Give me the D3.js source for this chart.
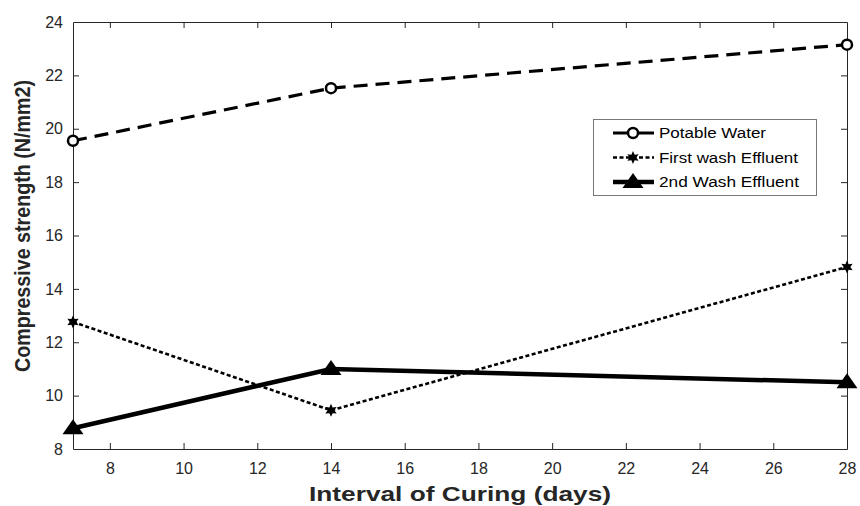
<!DOCTYPE html>
<html>
<head>
<meta charset="utf-8">
<script src="https://cdn.jsdelivr.net/npm/d3@7"></script>
<style>
  body { margin: 0; background: #fff; }
  svg { display: block; font-family: "Liberation Sans", Arial, sans-serif; }
</style>
</head>
<body>
<div id="chart"></div>
<script>
// data
const days = [7, 14, 28];
const potableWater = [19.55, 21.52, 23.15];
const firstWash = [12.76, 9.45, 14.82];
const secondWash = [8.78, 11.0, 10.5];
const seriesNames = ["Potable Water", "First wash Effluent", "2nd Wash Effluent"];
const xTicks = [8, 10, 12, 14, 16, 18, 20, 22, 24, 26, 28];
const yTicks = [8, 10, 12, 14, 16, 18, 20, 22, 24];

const width = 860, height = 506;
const margin = { left: 73, right: 13, top: 22, bottom: 57 };

const svg = d3.select("#chart").append("svg")
  .attr("width", width)
  .attr("height", height);

const x = d3.scaleLinear().domain([7, 28]).range([margin.left, width - margin.right]);
const y = d3.scaleLinear().domain([8, 24]).range([height - margin.bottom, margin.top]);

const axisColor = "#262626";

// =======================
// AXES (box with inward ticks)
// =======================
const tickLen = 6;
const gx = svg.append("g")
  .attr("transform", `translate(0,${y(8)})`)
  .call(d3.axisBottom(x).tickValues(xTicks).tickSizeInner(-tickLen).tickSizeOuter(0).tickPadding(14));
const gxTop = svg.append("g")
  .attr("transform", `translate(0,${y(24)})`)
  .call(d3.axisTop(x).tickValues(xTicks).tickSizeInner(-tickLen).tickSizeOuter(0).tickFormat(""));
const gy = svg.append("g")
  .attr("transform", `translate(${x(7)},0)`)
  .call(d3.axisLeft(y).tickValues(yTicks).tickSizeInner(-tickLen).tickSizeOuter(0).tickPadding(10));
const gyRight = svg.append("g")
  .attr("transform", `translate(${x(28)},0)`)
  .call(d3.axisRight(y).tickValues(yTicks).tickSizeInner(-tickLen).tickSizeOuter(0).tickFormat(""));

[gx, gxTop, gy, gyRight].forEach(g => {
  g.selectAll("path").attr("stroke", axisColor).attr("stroke-width", 1);
  g.selectAll("line").attr("stroke", axisColor).attr("stroke-width", 1);
  g.selectAll("text").attr("fill", axisColor).style("font-size", "16px");
});
// drop the ticks that sit on the corners
gx.selectAll(".tick").filter(d => d === 28).select("line").remove();
gxTop.selectAll(".tick").filter(d => d === 28).remove();
gy.selectAll(".tick").filter(d => d === 8 || d === 24).select("line").remove();
gyRight.selectAll(".tick").filter(d => d === 8 || d === 24).remove();

svg.append("text")
  .attr("x", (x(7) + x(28)) / 2 - 151)
  .attr("y", 501)
  .attr("textLength", 302)
  .attr("lengthAdjust", "spacingAndGlyphs")
  .attr("fill", axisColor)
  .style("font-size", "21px")
  .style("font-weight", "bold")
  .text("Interval of Curing (days)");

svg.append("text")
  .attr("transform", `translate(30,372) rotate(-90)`)
  .attr("textLength", 292)
  .attr("lengthAdjust", "spacingAndGlyphs")
  .attr("fill", axisColor)
  .style("font-size", "22px")
  .style("font-weight", "bold")
  .text("Compressive strength (N/mm2)");

// =======================
// SERIES
// =======================
const series = [
  { name: seriesNames[0], values: potableWater, width: 3.2, dash: "14,8", marker: "circle", textLen: 107 },
  { name: seriesNames[1], values: firstWash, width: 2.6, dash: "4,2.5", marker: "star", textLen: 139 },
  { name: seriesNames[2], values: secondWash, width: 4.5, dash: null, marker: "triangle", textLen: 140 }
];

const line = d3.line().x(d => x(d[0])).y(d => y(d[1]));

// six-pointed star path
const hexagram = (() => {
  const pts = [];
  for (let k = 0; k < 12; k++) {
    const a = -Math.PI / 2 + k * Math.PI / 6;
    const r = k % 2 === 0 ? 6.5 : 3.3;
    pts.push([r * Math.cos(a), r * Math.sin(a)]);
  }
  return "M" + pts.map(p => p.join(",")).join("L") + "Z";
})();

function drawMarker(g, kind, cx, cy) {
  if (kind === "circle") {
    g.append("circle").attr("cx", cx).attr("cy", cy).attr("r", 5)
      .attr("fill", "#fff").attr("stroke", "#000").attr("stroke-width", 2.5);
  } else if (kind === "star") {
    g.append("path").attr("transform", `translate(${cx},${cy})`)
      .attr("d", hexagram)
      .attr("fill", "#000");
  } else {
    g.append("path").attr("transform", `translate(${cx},${cy})`)
      .attr("d", "M0,-9L10.5,6L-10.5,6Z")
      .attr("fill", "#000");
  }
}

const plot = svg.append("g");
series.forEach(s => {
  const pts = days.map((d, i) => [d, s.values[i]]);
  plot.append("path")
    .attr("d", line(pts))
    .attr("fill", "none")
    .attr("stroke", "#000")
    .attr("stroke-width", s.width)
    .attr("stroke-dasharray", s.dash);
  pts.forEach(p => drawMarker(plot, s.marker, x(p[0]), y(p[1])));
});

// =======================
// LEGEND
// =======================
const legend = svg.append("g");
legend.append("rect")
  .attr("x", 593.5).attr("y", 119.5)
  .attr("width", 223).attr("height", 76)
  .attr("fill", "#fff")
  .attr("stroke", "#777").attr("stroke-width", 1);

series.forEach((s, i) => {
  const ly = 133 + i * 24.5;
  legend.append("line")
    .attr("x1", 613).attr("x2", 654).attr("y1", ly).attr("y2", ly)
    .attr("stroke", "#000").attr("stroke-width", s.width)
    .attr("stroke-dasharray", s.marker === "star" ? "4,2.5" : null);
  drawMarker(legend, s.marker, 633, ly);
  legend.append("text")
    .attr("x", 659).attr("y", ly + 5)
    .attr("textLength", s.textLen)
    .attr("lengthAdjust", "spacingAndGlyphs")
    .attr("fill", "#000")
    .style("font-size", "14px")
    .text(s.name);
});
</script>
</body>
</html>
